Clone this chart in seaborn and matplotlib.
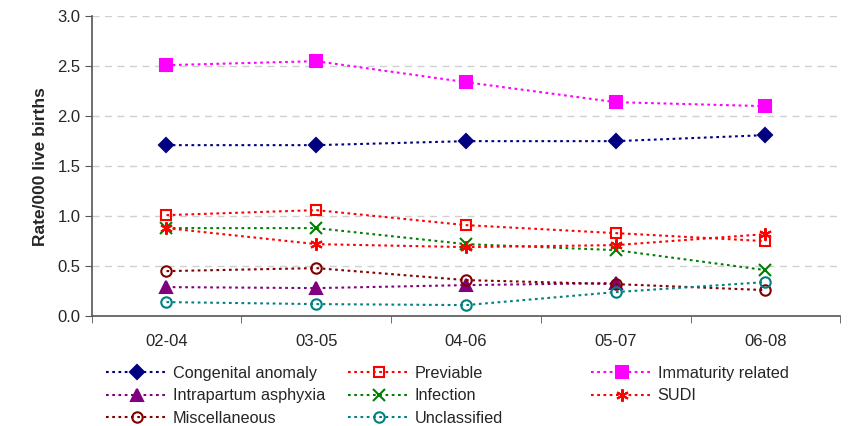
import numpy as np
import pandas as pd
import seaborn as sns
import matplotlib.pyplot as plt

periods = ["02-04", "03-05", "04-06", "05-07", "06-08"]

congenital = [1.71, 1.71, 1.75, 1.75, 1.81]
previable = [1.01, 1.06, 0.91, 0.83, 0.75]
immaturity = [2.51, 2.55, 2.34, 2.14, 2.10]
intrapartum = [0.29, 0.28, 0.31, 0.33, np.nan]
infection = [0.88, 0.88, 0.72, 0.66, 0.46]
sudi = [0.88, 0.72, 0.69, 0.71, 0.82]
misc = [0.45, 0.48, 0.36, 0.32, 0.26]
unclassified = [0.14, 0.12, 0.11, 0.24, 0.34]

series = {
    "Congenital anomaly": congenital,
    "Previable": previable,
    "Immaturity related": immaturity,
    "Intrapartum asphyxia": intrapartum,
    "Infection": infection,
    "SUDI": sudi,
    "Miscellaneous": misc,
    "Unclassified": unclassified,
}

# colour, marker, size, filled
styles = {
    "Congenital anomaly": ("#000080", "D", 7, True),
    "Previable": ("#ff0000", "s", 7.5, False),
    "Immaturity related": ("#ff00ff", "s", 8.5, True),
    "Intrapartum asphyxia": ("#800080", "^", 8.5, True),
    "Infection": ("#008000", "x", 8, False),
    "SUDI": ("#ff0000", (6, 2, 0), 9, False),
    "Miscellaneous": ("#800000", "o", 7.5, False),
    "Unclassified": ("#008080", "o", 7.5, False),
}

df = pd.DataFrame(
    [(name, p, v) for name, vals in series.items() for p, v in zip(periods, vals)],
    columns=["cause", "period", "rate"],
)

sns.set_style("white")
plt.rcParams["font.family"] = ["Liberation Sans", "DejaVu Sans"]

fig, ax = plt.subplots(figsize=(8.48, 4.26), dpi=100)
fig.subplots_adjust(left=0.108, right=0.991, top=0.962, bottom=0.258)

for name in series:
    color, marker, ms, filled = styles[name]
    sub = df[df["cause"] == name].dropna()
    sns.lineplot(
        data=sub, x="period", y="rate", ax=ax, label=name,
        color=color, marker=marker, markersize=ms,
        markerfacecolor=color if filled else "none",
        markeredgecolor=color, markeredgewidth=1.5,
        linewidth=1.5, linestyle=(0, (1.3, 1.7)), sort=False,
    )

ax.set_ylim(0, 3.0)
ax.set_xlim(-0.5, 4.5)
ax.set_yticks(np.arange(0, 3.01, 0.5))
ax.set_yticklabels([f"{v:.1f}" for v in np.arange(0, 3.01, 0.5)], fontsize=12)
ax.set_xticks(range(len(periods)))
ax.set_xticklabels(periods, fontsize=12)
ax.set_xticks(np.arange(-0.5, 4.6, 1), minor=True)
ax.tick_params(axis="x", which="major", length=0, pad=13)
ax.tick_params(axis="x", which="minor", length=5, color="#555555", direction="out", bottom=True)
ax.tick_params(axis="y", length=5, color="#555555", direction="out", left=True, pad=3)
ax.yaxis.grid(True, color="#d0d0d0", linestyle=(0, (5, 4)), linewidth=1)
ax.xaxis.grid(False)
ax.set_axisbelow(True)
ax.set_xlabel("")
ax.set_ylabel("Rate/000 live births", fontsize=12.5, fontweight="bold", labelpad=7)
for s in ["top", "right"]:
    ax.spines[s].set_visible(False)
for s in ["left", "bottom"]:
    ax.spines[s].set_color("#555555")
    ax.spines[s].set_linewidth(1.2)

handles, labels = ax.get_legend_handles_labels()
ax.get_legend().remove()
lookup = dict(zip(labels, handles))
columns = [
    ["Congenital anomaly", "Intrapartum asphyxia", "Miscellaneous"],
    ["Previable", "Infection", "Unclassified"],
    ["Immaturity related", "SUDI"],
]
xs = [106 / 848, 348 / 848, 591 / 848]
for x0, col in zip(xs, columns):
    fig.legend(
        [lookup[c] for c in col], col, loc="upper left",
        bbox_to_anchor=(x0, 1 - 366 / 426), frameon=False, fontsize=11.7,
        handlelength=3.8, handletextpad=0.3, borderpad=0, borderaxespad=0,
        labelspacing=0.45,
    )

fig.savefig("out.png", dpi=100)
